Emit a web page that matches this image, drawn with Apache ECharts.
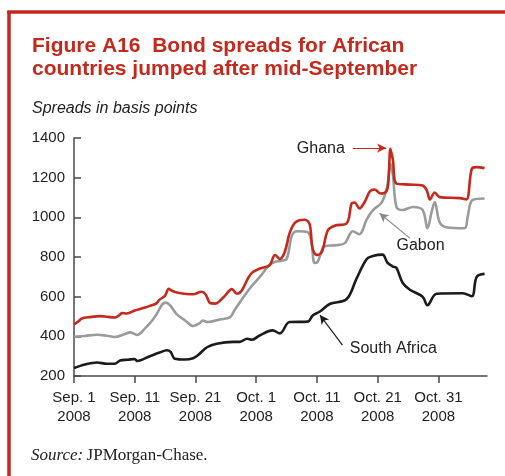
<!DOCTYPE html>
<html>
<head>
<meta charset="utf-8">
<script src="https://cdn.jsdelivr.net/npm/echarts@6/dist/echarts.min.js"></script>
<style>
  html, body { margin: 0; padding: 0; background: #fff; }
  #chart { width: 505px; height: 476px; }
</style>
</head>
<body>
<div id="chart"></div>
<script>
// Days counted from 1 September 2008
const tickDays = [0, 10, 20, 30, 40, 50, 60];
const tickLabels = ['Sep. 1\n2008', 'Sep. 11\n2008', 'Sep. 21\n2008', 'Oct. 1\n2008',
                    'Oct. 11\n2008', 'Oct. 21\n2008', 'Oct. 31\n2008'];
const yTicks = [200, 400, 600, 800, 1000, 1200, 1400];

// Ghana spreads (basis points)
const ghanaDays = [0, 0.7, 1.3, 2.6, 4.3, 5.6, 6.7, 7.4, 7.9, 8.7, 10, 11.7, 12.8, 13.5, 14.1, 15, 15.6, 16.1, 17.1,
  19.6, 21, 21.7, 22.4, 23.2, 24.7, 26, 26.8, 27.6, 28.6, 29.3, 30.6, 32.2, 33.1, 33.9, 34.7, 35.5, 36.3, 37.1, 38,
  38.8, 39.3, 40, 40.8, 41.8, 42.9, 44.9, 45.7, 46.2, 47, 47.9, 48.7, 49.5, 50.5, 51.5, 51.8, 52.1, 52.5, 53.1,
  55.3, 57.4, 58.1, 58.6, 59.4, 60.2, 63.5, 64.6, 65.5, 66.3, 67.6];
const ghanaValues = [460, 475, 490, 497, 502, 498, 495, 505, 517, 515, 530, 545, 557, 565, 585, 605, 640, 630, 620,
  612, 625, 610, 568, 565, 600, 638, 615, 630, 690, 720, 742, 758, 810, 790, 825, 920, 970, 985, 988,
  965, 840, 810, 825, 935, 958, 970, 1070, 1075, 1045, 1080, 1130, 1140, 1120, 1135, 1200, 1345, 1290, 1170,
  1165, 1160, 1135, 1090, 1125, 1102, 1097, 1090, 1245, 1253, 1248];

// Gabon spreads (basis points)
const gabonDays = [0, 1.8, 3.8, 5.4, 6.7, 8.4, 9.2, 10.4, 11.7, 13, 13.8, 14.5, 15.1, 15.8, 16.9, 18.3, 19.6, 20.7,
  21.2, 22, 24, 25.7, 26.5, 28.9, 30.6, 32.2, 33.1, 33.9, 35, 35.9, 36.8, 38.5, 39.1, 39.6, 40.1, 41.3, 43.3, 44.6,
  45.9, 47, 48.2, 49.2, 50.7, 51.6, 52.1, 52.5, 53.1, 54.1, 55.8, 57.4, 58.2, 58.9, 59.4, 60.2, 61.3, 64.3, 64.8,
  65.6, 67.6];
const gabonValues = [398, 402, 408, 403, 397, 412, 420, 407, 440, 485, 522, 560, 570, 557, 512, 480, 452, 467,
  480, 472, 485, 497, 535, 640, 700, 760, 775, 780, 790, 910, 930, 925, 875, 770, 775, 855, 860, 870,
  930, 915, 990, 1035, 1077, 1160, 1270, 1215, 1052, 1037, 1052, 1037, 945, 1030, 1077, 975, 950, 945, 1000,
  1087, 1095];

// South Africa spreads (basis points)
const saDays = [0, 1.8, 3.8, 5.4, 6.7, 7.6, 8.9, 10, 10.4, 12.5, 14.1, 15.3, 15.9, 16.6, 18.3, 19.6, 20.4, 21.9,
  23.5, 26.2, 27.3, 28.5, 29.3, 30.6, 32.7, 33.9, 35.5, 38.5, 39.3, 40.5, 42.1, 44.9, 46.5, 48.2, 49.2, 50.8,
  51.6, 52.5, 53.1, 54.1, 55.3, 57.4, 58.2, 59.7, 64, 65.5, 66.3, 67.6];
const saValues = [240, 258, 268, 262, 262, 278, 282, 286, 276, 300, 318, 330, 322, 287, 283, 290, 305, 345,
  363, 372, 372, 388, 383, 405, 430, 415, 472, 474, 505, 525, 563, 588, 690, 790, 805, 812,
  772, 752, 745, 670, 635, 600, 557, 615, 617, 602, 700, 715];

const RED = '#c4291d';
const GRAY = '#9b9b9b';
const BLACK = '#1b1b1b';
const AXIS = '#4a4a4a';
const SANS = '"Liberation Sans", Arial, sans-serif';
const SERIF = '"Liberation Serif", "Times New Roman", serif';

function pairs(xs, ys) { return xs.map((x, i) => [x, ys[i]]); }

function arrowLine(from, to, color) {
  return {
    silent: true,
    symbol: ['none', 'arrow'],
    symbolSize: [7, 9],
    label: { show: false },
    lineStyle: { color: color, width: 1.2, type: 'solid' },
    data: [[{ coord: from }, { coord: to }]]
  };
}

const chart = echarts.init(document.getElementById('chart'), null, { renderer: 'canvas' });

const labelMap = {};
tickDays.forEach((d, i) => { labelMap[d] = tickLabels[i]; });

chart.setOption({
  animation: false,
  grid: { left: 74, top: 138, right: 18, bottom: 100, containLabel: false },
  xAxis: {
    type: 'value',
    min: 0, max: 68, interval: 10,
    axisLine: { lineStyle: { color: AXIS, width: 1.5 } },
    axisTick: { show: true, length: 7, inside: false, customValues: tickDays, lineStyle: { color: AXIS, width: 1.5 } },
    axisLabel: {
      customValues: tickDays,
      formatter: v => labelMap[v] || '',
      color: '#222', fontFamily: SANS, fontSize: 15,
      lineHeight: 19, margin: 12
    },
    splitLine: { show: false }
  },
  yAxis: {
    type: 'value',
    min: 200, max: 1400, interval: 200,
    axisLine: { show: true, lineStyle: { color: AXIS, width: 1.5 } },
    axisTick: { show: true, inside: true, length: 7, lineStyle: { color: AXIS, width: 1.5 } },
    axisLabel: { color: '#222', fontFamily: SANS, fontSize: 15, margin: 9, formatter: v => String(v) },
    splitLine: { show: false }
  },
  series: [
    {
      name: 'Gabon', type: 'line', data: pairs(gabonDays, gabonValues),
      showSymbol: false, smooth: 0.35, lineStyle: { color: GRAY, width: 2.6 }, z: 2,
      markLine: arrowLine([55.3, 895], [50.3, 1021], '#8a8a8a')
    },
    {
      name: 'South Africa', type: 'line', data: pairs(saDays, saValues),
      showSymbol: false, smooth: 0.35, lineStyle: { color: BLACK, width: 2.6 }, z: 3,
      markLine: arrowLine([44.2, 356], [40.5, 507], BLACK)
    },
    {
      name: 'Ghana', type: 'line', data: pairs(ghanaDays, ghanaValues),
      showSymbol: false, smooth: 0.35, lineStyle: { color: RED, width: 2.6 }, z: 4,
      markLine: arrowLine([45.9, 1349], [51.4, 1349], RED)
    }
  ]
});

// Series name labels placed in data space next to their arrows
const notes = [
  { text: 'Ghana', at: [44.6, 1349], align: 'right' },
  { text: 'Gabon', at: [53.1, 858], align: 'left' },
  { text: 'South Africa', at: [45.4, 340], align: 'left' }
];
const noteEls = notes.map(n => {
  const p = chart.convertToPixel({ gridIndex: 0 }, n.at);
  return {
    type: 'text', x: p[0], y: p[1],
    style: { text: n.text, fill: '#222', font: '16px ' + SANS,
             align: n.align, verticalAlign: 'middle' }
  };
});

chart.setOption({
  graphic: [
    // red frame on the left and top
    { type: 'line', shape: { x1: 9, y1: 11, x2: 9, y2: 476 }, style: { stroke: RED, lineWidth: 3.5 } },
    { type: 'line', shape: { x1: 7.25, y1: 12, x2: 505, y2: 12 }, style: { stroke: RED, lineWidth: 3.5 } },
    {
      type: 'text', x: 32, y: 34.5,
      style: { text: 'Figure A16  Bond spreads for African\ncountries jumped after mid-September',
               fill: RED, font: 'bold 21px ' + SANS, lineHeight: 23 }
    },
    {
      type: 'text', x: 32, y: 101,
      style: { text: 'Spreads in basis points', fill: '#222', font: 'italic 16px ' + SANS }
    },
    {
      type: 'text', x: 31, y: 447,
      style: {
        text: '{i|Source:} {n|JPMorgan-Chase.}',
        rich: {
          i: { fontFamily: SERIF, fontStyle: 'italic', fontSize: 17, fill: '#222' },
          n: { fontFamily: SERIF, fontSize: 17, fill: '#222' }
        }
      }
    }
  ].concat(noteEls)
});
</script>
</body>
</html>
